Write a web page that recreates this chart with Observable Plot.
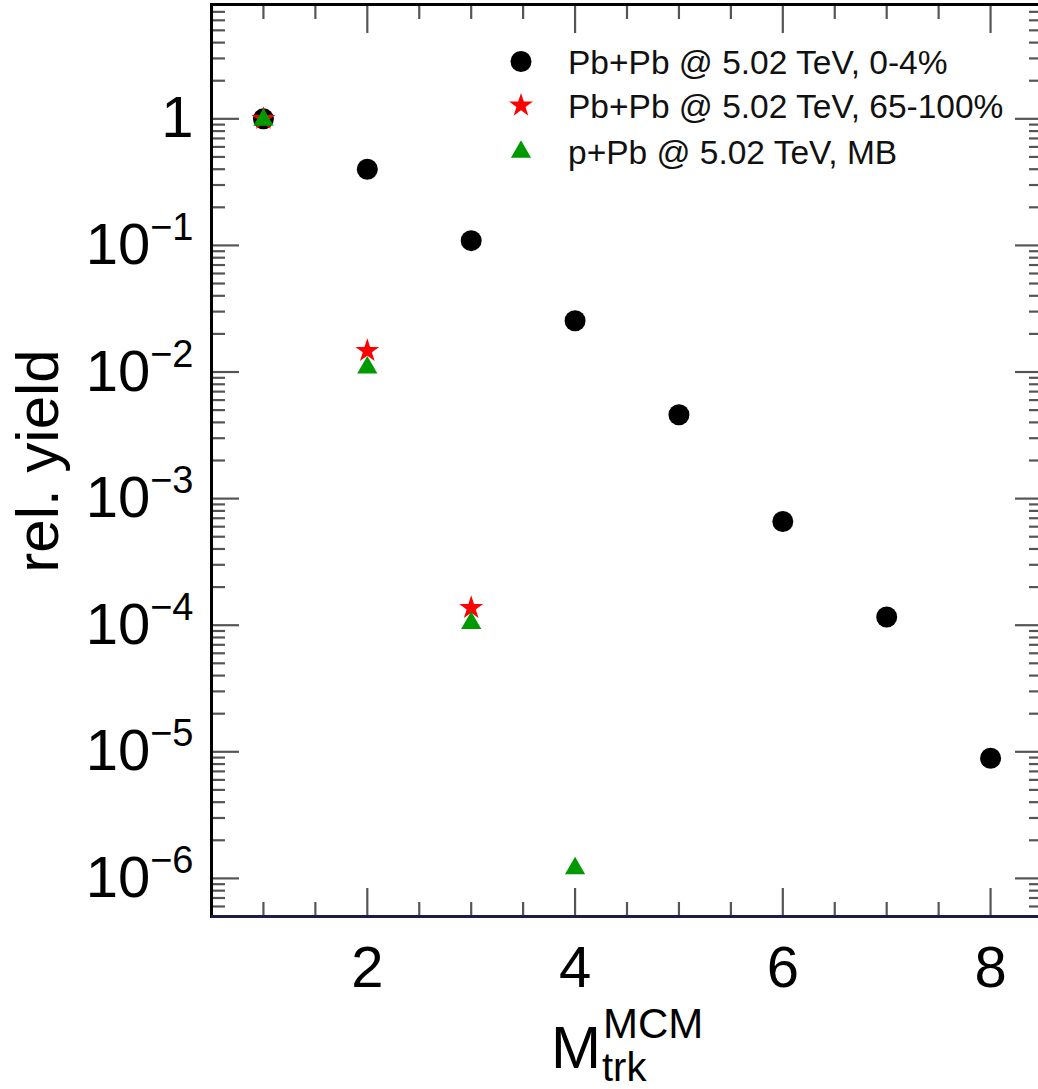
<!DOCTYPE html>
<html><head><meta charset="utf-8">
<script src="https://cdn.jsdelivr.net/npm/d3@7"></script>
<script src="https://cdn.jsdelivr.net/npm/@observablehq/plot@0.6"></script>
<style>
body{margin:0;background:#fff;font-family:"Liberation Sans",Arial,Helvetica,sans-serif;}
#wrap{position:relative;width:1038px;height:1089px;overflow:hidden;}
</style></head><body><div id="wrap"></div>
<script>
// ---- data ----
const multCentral = [1, 2, 3, 4, 5, 6, 7, 8];
const yieldPbPbCentral = [1, 0.40, 0.109, 0.0254, 0.0046, 6.6e-4, 1.16e-4, 8.9e-6];
const multPeripheral = [1, 2, 3];
const yieldPbPbPeripheral = [1, 0.0147, 1.37e-4];
const multPPb = [1, 2, 3, 4];
const yieldPPb = [0.98, 0.0108, 1.04e-4, 1.2e-6];
const seriesNames = ["Pb+Pb @ 5.02 TeV, 0-4%", "Pb+Pb @ 5.02 TeV, 65-100%", "p+Pb @ 5.02 TeV, MB"];
const seriesColors = ["#000000", "#ff0000", "#009900"];
const seriesSymbols = ["circle", "star", "triangle"];
const seriesRadius = [10.5, 7.5, 7.5];
const xMajorTicks = [2, 4, 6, 8];
const xMinorTicks = [1, 1.5, 2.5, 3, 3.5, 4.5, 5, 5.5, 6.5, 7, 7.5];
const yMajorTicks = [1, 1e-1, 1e-2, 1e-3, 1e-4, 1e-5, 1e-6];
const xDomain = [0.5, 8.5];
const yDomain = [5e-7, 8];
const yTitle = "rel. yield";

const yMinorTicks = [];
for (let n = -7; n <= 0; n++) for (let k = 2; k <= 9; k++) {
  const v = k * Math.pow(10, n);
  if (v >= yDomain[0] && v <= yDomain[1]) yMinorTicks.push(v);
}

const toRows = (xs, ys) => xs.map((x, i) => ({x, y: ys[i]}));
const central = toRows(multCentral, yieldPbPbCentral);
const peripheral = toRows(multPeripheral, yieldPbPbPeripheral);
const ppb = toRows(multPPb, yieldPPb);

const tickStyle = {fill: "none", stroke: "#555", strokeWidth: 2.2, label: null};
const font = "Liberation Sans, Arial, Helvetica, sans-serif";

const chart = Plot.plot({
  width: 1038, height: 1089,
  marginLeft: 211, marginTop: 4, marginBottom: 173, marginRight: -4,
  x: {domain: xDomain},
  y: {type: "log", domain: yDomain},
  style: {fontFamily: font, color: "#000", background: "transparent", overflow: "visible"},
  marks: [
    Plot.axisY({...tickStyle, anchor: "left", ticks: yMinorTicks, tickSize: -14}),
    Plot.axisY({...tickStyle, anchor: "right", ticks: yMinorTicks, tickSize: -14}),
    Plot.axisY({...tickStyle, anchor: "left", ticks: yMajorTicks, tickSize: -28}),
    Plot.axisY({...tickStyle, anchor: "right", ticks: yMajorTicks, tickSize: -28}),
    Plot.axisX({...tickStyle, anchor: "bottom", ticks: xMinorTicks, tickSize: -14}),
    Plot.axisX({...tickStyle, anchor: "top", ticks: xMinorTicks, tickSize: -14}),
    Plot.axisX({...tickStyle, anchor: "bottom", ticks: xMajorTicks, tickSize: -28}),
    Plot.axisX({...tickStyle, anchor: "top", ticks: xMajorTicks, tickSize: -28}),
    Plot.axisY({anchor: "left", ticks: yMajorTicks, tickSize: 0, tickPadding: 18, fontSize: 58, label: null,
      tickFormat: d => d === 1 ? "1" : "10^" + Math.round(Math.log10(d))}),
    Plot.axisX({anchor: "bottom", ticks: xMajorTicks, tickSize: 0, tickPadding: 29, fontSize: 58, label: null}),
    Plot.frame({stroke: "#000", strokeWidth: 3}),
    Plot.ruleY([yDomain[0]], {stroke: "#1c1c48", strokeWidth: 3}),
    Plot.dot(central, {x: "x", y: "y", symbol: seriesSymbols[0], fill: seriesColors[0], r: seriesRadius[0]}),
    Plot.dot(peripheral, {x: "x", y: "y", symbol: seriesSymbols[1], fill: seriesColors[1], r: seriesRadius[1]}),
    Plot.dot(ppb, {x: "x", y: "y", symbol: seriesSymbols[2], fill: seriesColors[2], r: seriesRadius[2]})
  ]
});
document.getElementById("wrap").appendChild(chart);

const svg = d3.select(chart);
// superscript exponents for y tick labels
svg.selectAll('g[aria-label="y-axis tick label"] text').each(function () {
  const t = d3.select(this);
  const s = this.textContent;
  if (s.startsWith("10^")) {
    const e = s.slice(3).replace("-", "\u2212");
    t.text(null);
    t.append("tspan").text("10");
    t.append("tspan").attr("font-size", 38).attr("dy", -24).text(e);
  }
});

// y title
svg.append("text")
  .attr("transform", "translate(58,461) rotate(-90)")
  .attr("text-anchor", "middle")
  .attr("font-family", font).attr("font-size", 60).attr("fill", "#000")
  .text(yTitle);

// x title M_trk^MCM
const mText = svg.append("text")
  .attr("x", 551).attr("y", 1068).attr("text-anchor", "start")
  .attr("font-family", font).attr("font-size", 60).attr("fill", "#000")
  .text("M");
const mw = mText.node().getComputedTextLength();
svg.append("text").attr("x", 551 + mw + 2).attr("y", 1038).attr("text-anchor", "start")
  .attr("font-family", font).attr("font-size", 42).attr("fill", "#000").text("MCM");
svg.append("text").attr("x", 551 + mw + 1).attr("y", 1081).attr("text-anchor", "start")
  .attr("font-family", font).attr("font-size", 40).attr("fill", "#000").text("trk");

// legend
const legendRows = [61.5, 105.5, 152];
const lg = svg.append("g").attr("aria-label", "legend");
seriesNames.forEach((name, i) => {
  const sym = {circle: d3.symbolCircle, star: d3.symbolStar, triangle: d3.symbolTriangle}[seriesSymbols[i]];
  const r = seriesRadius[i];
  lg.append("path")
    .attr("transform", `translate(521,${legendRows[i]})`)
    .attr("d", d3.symbol(sym, Math.PI * r * r)())
    .attr("fill", seriesColors[i]);
  lg.append("text")
    .attr("x", 568).attr("y", legendRows[i]).attr("dy", "0.36em").attr("text-anchor", "start")
    .attr("font-family", font).attr("font-size", 33.5).attr("fill", "#111")
    .text(name);
});
</script>
</body></html>
